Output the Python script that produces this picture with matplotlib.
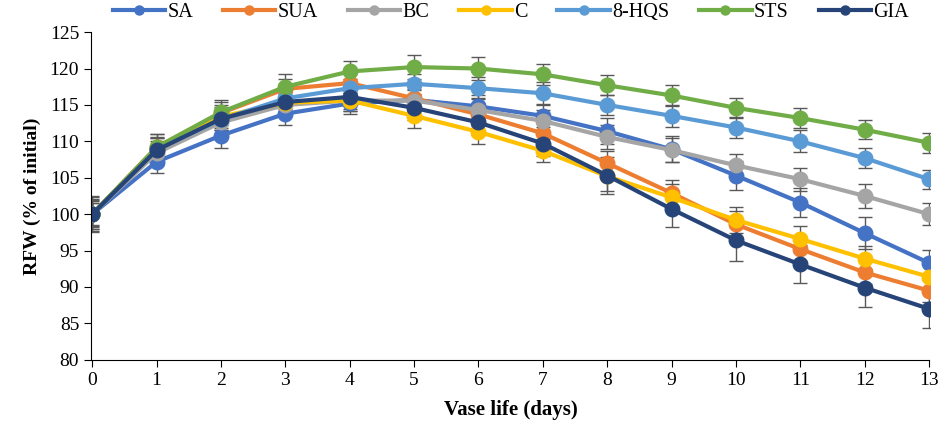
import matplotlib
matplotlib.use("Agg")
import matplotlib.pyplot as plt
from matplotlib.lines import Line2D

plt.rcParams["font.family"] = ["Liberation Serif", "DejaVu Serif"]

days = list(range(14))
labels = ["SA", "SUA", "BC", "C", "8-HQS", "STS", "GIA"]
colors = ["#4472C4", "#ED7D31", "#A5A5A5", "#FFC000", "#5B9BD5", "#70AD47", "#264478"]

sa   = [100, 107.2, 110.8, 113.8, 115.2, 115.7, 114.8, 113.5, 111.4, 108.9, 105.3, 101.6, 97.4, 93.3]
sua  = [100, 109.2, 113.9, 117.2, 118.0, 115.9, 113.7, 111.1, 107.0, 102.9, 98.6, 95.2, 92.0, 89.5]
bc   = [100, 108.4, 112.6, 115.0, 115.6, 115.6, 114.3, 112.8, 110.6, 108.8, 106.7, 104.8, 102.5, 100.0]
c    = [100, 108.9, 113.4, 115.3, 115.6, 113.5, 111.3, 108.7, 105.2, 102.3, 99.2, 96.6, 93.9, 91.4]
hqs  = [100, 108.9, 113.0, 115.9, 117.3, 117.9, 117.3, 116.6, 115.0, 113.5, 111.9, 110.0, 107.7, 104.8]
sts  = [100, 109.2, 114.0, 117.5, 119.6, 120.2, 120.0, 119.2, 117.7, 116.3, 114.6, 113.2, 111.6, 109.8]
gia  = [100, 108.8, 113.1, 115.4, 116.1, 114.6, 112.6, 109.7, 105.3, 100.7, 96.4, 93.1, 89.9, 87.0]

sa_err   = [1.6, 1.5, 1.7, 1.6, 1.4, 1.5, 1.6, 1.5, 1.8, 1.8, 2.0, 2.0, 2.2, 1.8]
sua_err  = [2.0, 1.8, 1.5, 1.4, 1.3, 1.5, 1.6, 1.5, 1.7, 1.8, 1.8, 1.7, 1.6, 1.5]
bc_err   = [2.3, 1.6, 1.6, 1.5, 1.5, 1.5, 1.6, 1.5, 1.6, 1.6, 1.6, 1.6, 1.6, 1.5]
c_err    = [1.8, 1.6, 1.6, 1.5, 1.4, 1.6, 1.7, 1.6, 2.0, 1.8, 1.8, 1.8, 1.7, 1.6]
hqs_err  = [2.1, 1.5, 1.5, 1.4, 1.3, 1.4, 1.5, 1.5, 1.4, 1.5, 1.5, 1.5, 1.4, 1.3]
sts_err  = [2.5, 1.8, 1.7, 1.8, 1.5, 1.6, 1.6, 1.4, 1.4, 1.4, 1.4, 1.4, 1.3, 1.4]
gia_err  = [1.5, 1.8, 1.6, 1.4, 1.6, 1.7, 1.7, 1.7, 2.6, 2.5, 2.8, 2.6, 2.6, 2.6]

series = [sa, sua, bc, c, hqs, sts, gia]
errors = [sa_err, sua_err, bc_err, c_err, hqs_err, sts_err, gia_err]

fig = plt.figure(figsize=(9.42, 4.34), dpi=100)
ax = fig.add_axes([0.0966, 0.171, 0.891, 0.755])

for lab, col, ys, es in zip(labels, colors, series, errors):
    ax.errorbar(days, ys, yerr=es, color=col, lw=3.0, marker="o", ms=10.5,
                ecolor="#595959", elinewidth=1.0, capsize=5, capthick=1.0,
                label=lab)

ax.set_ylim(80, 125)
ax.set_xticks(days)
ax.set_yticks(range(80, 126, 5))
ax.tick_params(labelsize=14, direction="out", length=5)
ax.spines["top"].set_visible(False)
ax.spines["right"].set_visible(False)
ax.set_xlim(-0.02, 13.02)
ax.spines["bottom"].set_bounds(0, 13)
ax.set_xlabel("Vase life (days)", fontsize=15, fontweight="bold", labelpad=8)
ax.set_ylabel("RFW (% of initial)", fontsize=14, fontweight="bold", labelpad=6)

handles = [Line2D([], [], color=col, lw=3.0, marker="o", ms=6.5) for col in colors]
ax.legend(handles, labels, loc="lower center", bbox_to_anchor=(0.5, 1.0),
          ncol=7, frameon=False, fontsize=14.5, handlelength=2.6,
          columnspacing=1.5, handletextpad=0.1, borderaxespad=0.1)

fig.savefig("out.png", dpi=100)
